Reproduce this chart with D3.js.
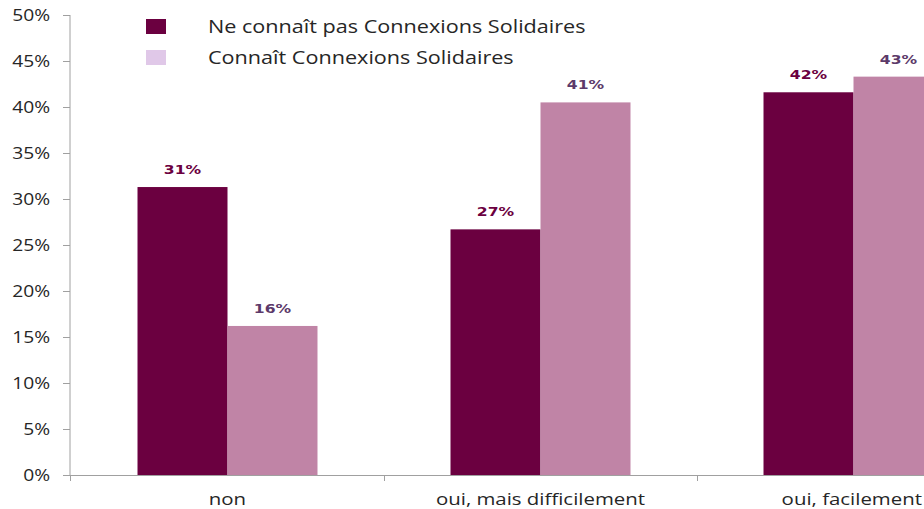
<!DOCTYPE html>
<html>
<head>
<meta charset="utf-8">
<script src="https://cdn.jsdelivr.net/npm/d3@7"></script>
<style>
  html, body { margin: 0; padding: 0; background: #fff; }
  svg { display: block; }
</style>
</head>
<body>
<svg id="chart" width="924" height="509"></svg>
<script>
// Réponses par catégorie, une liste par série
const categories = ["non", "oui, mais difficilement", "oui, facilement"];
const seriesNames = ["Ne connaît pas Connexions Solidaires", "Connaît Connexions Solidaires"];
const nePasConnaitre = [0.313, 0.267, 0.416];
const connait = [0.162, 0.405, 0.433];
const yTicks = [0, 0.05, 0.10, 0.15, 0.20, 0.25, 0.30, 0.35, 0.40, 0.45, 0.50];

const values = [nePasConnaitre, connait];

const barColors = ["#6b0040", "#c084a6"];
const legendColors = ["#6b0040", "#e0c8e8"];
const labelColors = ["#6b0040", "#5c3a6a"];

const W = 924;
const svg = d3.select("#chart");
const fontAxis = "'Open Sans', 'Noto Sans', sans-serif";
const pct = d3.format(".0%");

// Text in this chart is set slightly wide
const WIDEN = 1.2;
function widen(sel) {
  sel.each(function () {
    const len = this.getComputedTextLength();
    d3.select(this).attr("textLength", len * WIDEN).attr("lengthAdjust", "spacingAndGlyphs");
  });
}

const y = d3.scaleLinear().domain([0, 0.5]).range([475, 15]);
// The plot area runs past the right edge of the drawing
const x0 = d3.scaleBand().domain(categories).range([71, 1010]).padding(0);
const x1 = d3.scaleBand().domain([0, 1]).range([0, x0.bandwidth()])
  .paddingInner(0).paddingOuter(0.739);

// Y axis
const yAxis = d3.axisLeft(y).tickValues(yTicks).tickFormat(pct)
  .tickSize(7).tickPadding(13);
const gy = svg.append("g").attr("transform", "translate(70,0)").call(yAxis);
gy.select(".domain").attr("stroke", "#a0a0a0").attr("d", "M0,15V475");
gy.selectAll(".tick line").attr("stroke", "#a0a0a0");
gy.selectAll(".tick text").attr("fill", "#262626")
  .style("font-family", fontAxis).style("font-size", "16px")
  .call(widen);

// Bars and value labels
categories.forEach((cat, ci) => {
  values.forEach((serie, si) => {
    const v = serie[ci];
    const bx = x0(cat) + x1(si);
    svg.append("rect")
      .attr("x", bx).attr("y", y(v))
      .attr("width", x1.bandwidth()).attr("height", y(0) - y(v))
      .attr("fill", barColors[si]);
    svg.append("text")
      .attr("x", bx + x1.bandwidth() / 2).attr("y", y(v) - 13)
      .attr("text-anchor", "middle")
      .attr("fill", labelColors[si])
      .style("font-family", "'DejaVu Sans', Verdana, sans-serif")
      .style("font-weight", "bold").style("font-size", "13px")
      .text(pct(v))
      .call(widen);
  });
});

// X axis line with ticks at category boundaries
svg.append("line").attr("x1", 70).attr("x2", W).attr("y1", 475.5).attr("y2", 475.5)
  .attr("stroke", "#a0a0a0");
const boundaries = [70].concat(categories.slice(1).map(c => Math.round(x0(c))));
svg.selectAll(".xtick").data(boundaries).enter().append("line")
  .attr("x1", d => d + 0.5).attr("x2", d => d + 0.5)
  .attr("y1", 475).attr("y2", 481).attr("stroke", "#a0a0a0");

// Category labels, kept inside the drawing's right edge
svg.selectAll(".xlabel").data(categories).enter().append("text")
  .attr("x", d => x0(d) + x0.bandwidth() / 2)
  .attr("y", 505)
  .attr("text-anchor", "middle")
  .attr("fill", "#262626")
  .style("font-family", fontAxis).style("font-size", "17px")
  .text(d => d)
  .call(widen)
  .each(function (d) {
    const half = this.getComputedTextLength() / 2;
    const cx = x0(d) + x0.bandwidth() / 2;
    if (cx + half > W - 2) d3.select(this).attr("x", W - 2 - half);
  });

// Legend
const legend = svg.append("g");
seriesNames.forEach((name, i) => {
  legend.append("rect").attr("x", 146).attr("y", 19 + i * 31)
    .attr("width", 20).attr("height", 15).attr("fill", legendColors[i]);
  legend.append("text").attr("x", 208).attr("y", 33 + i * 31)
    .attr("fill", "#262626")
    .style("font-family", fontAxis).style("font-size", "18px")
    .text(name)
    .call(widen);
});
</script>
</body>
</html>
